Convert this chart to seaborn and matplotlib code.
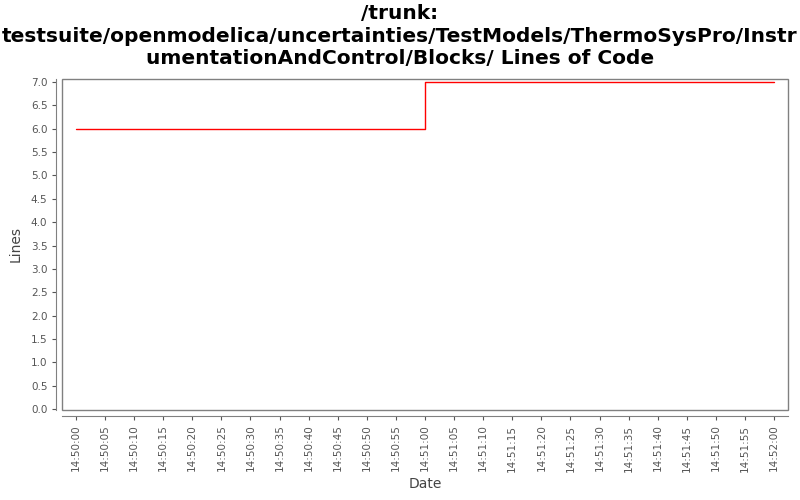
import pandas as pd
import matplotlib
matplotlib.use("Agg")
import matplotlib.pyplot as plt
import matplotlib.dates as mdates
from matplotlib.patches import Rectangle
import seaborn as sns

# data
times = ["2024-01-01 14:50:00", "2024-01-01 14:51:00", "2024-01-01 14:52:00"]
lines = [6, 7, 7]
title = ("/trunk:\ntestsuite/openmodelica/uncertainties/TestModels/ThermoSysPro/Instr\n"
         "umentationAndControl/Blocks/ Lines of Code")

df = pd.DataFrame({"Date": pd.to_datetime(times), "Lines": lines})

sns.set_style("white")
plt.rcParams["font.family"] = ["DejaVu Sans"]

fig = plt.figure(figsize=(8, 5), dpi=100)
ax = fig.add_axes([0.0775, 0.18, 0.9075, 0.662])

sns.lineplot(data=df, x="Date", y="Lines", ax=ax, color="red",
             drawstyle="steps-post", linewidth=1)

start = df["Date"].min() - pd.Timedelta(seconds=2.4)
end = df["Date"].max() + pd.Timedelta(seconds=2.4)
ax.set_xlim(start, end)
ax.set_ylim(-0.02, 7.064)
ax.set_yticks([i * 0.5 for i in range(15)])
ax.yaxis.set_major_formatter(matplotlib.ticker.FormatStrFormatter("%.1f"))
ax.xaxis.set_major_locator(mdates.SecondLocator(bysecond=range(0, 60, 5)))
ax.xaxis.set_major_formatter(mdates.DateFormatter("%H:%M:%S"))

ax.tick_params(axis="both", colors="#555555", labelsize=7.5, length=3,
               direction="out", left=True, bottom=True)
ax.tick_params(axis="x", labelrotation=90)
for s in ["top", "right"]:
    ax.spines[s].set_visible(False)
for s in ["left", "bottom"]:
    ax.spines[s].set_position(("outward", 4))
    ax.spines[s].set_color("#808080")
ax.add_patch(Rectangle((0, 0), 1, 1, transform=ax.transAxes, fill=False,
                       edgecolor="#808080", linewidth=1, clip_on=False))

ax.set_xlabel("Date", fontsize=10, color="#444444", labelpad=4)
ax.set_ylabel("Lines", fontsize=10, color="#444444", labelpad=6)
fig.suptitle(title, fontsize=14.5, fontweight="bold", y=0.992, linespacing=1.25,
             color="black")

fig.savefig("out.png", dpi=100)
